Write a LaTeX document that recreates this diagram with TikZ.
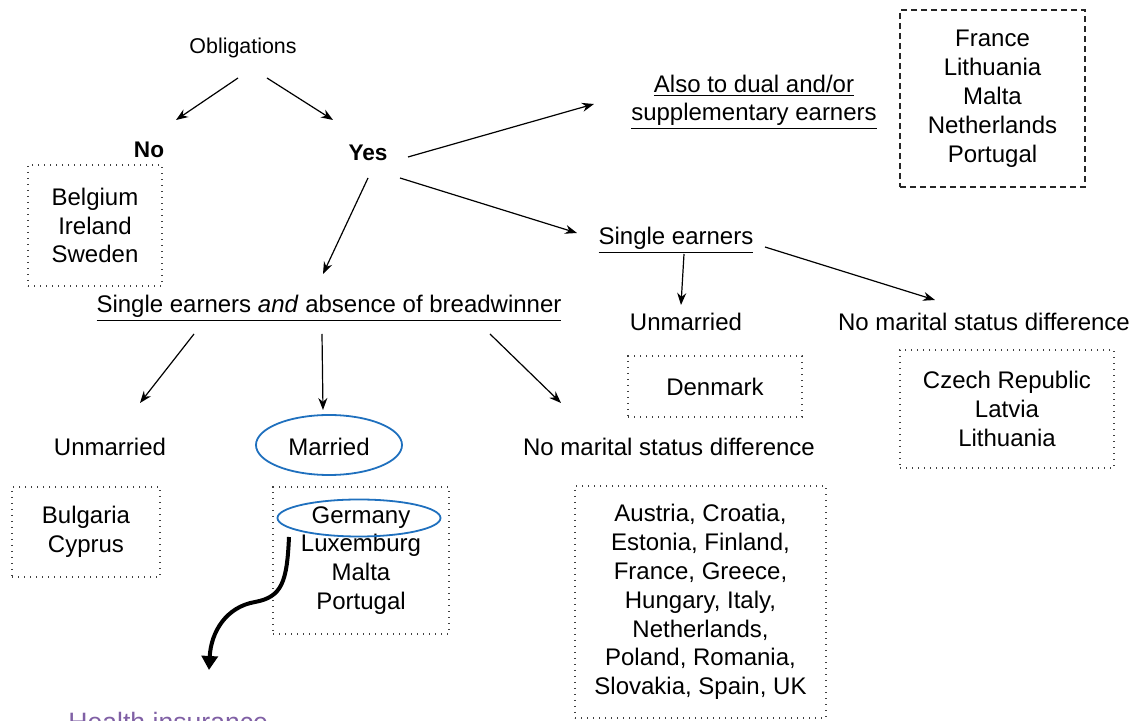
\documentclass[tikz,border=0pt]{standalone}
\usepackage{fontspec}
\setmainfont{Liberation Sans}
\usetikzlibrary{arrows.meta,shapes.geometric}
\definecolor{ellblue}{RGB}{31,112,190}
\definecolor{hipurple}{RGB}{128,96,165}
\tikzset{
  lbl/.style={inner sep=0pt, align=center, font=\fontsize{12}{14.4}\selectfont},
  dotbox/.style={draw=black!75, line width=0.7pt, dash pattern=on 0.7pt off 2.3pt, inner sep=0pt, align=center, font=\fontsize{12}{14.4}\selectfont},
  dashbox/.style={draw=black!85, line width=0.7pt, dash pattern=on 3pt off 2pt, inner sep=0pt, align=center, font=\fontsize{12}{14.5}\selectfont},
  arr/.style={draw=black, line width=0.6pt, -{Stealth[length=6pt,width=4.5pt]}},
  ell/.style={draw=ellblue, line width=0.9pt, ellipse, inner sep=0pt},
  bigarr/.style={draw=black, line width=2pt, -{Triangle[length=7pt,width=8pt]}},
}
\begin{document}
\begin{tikzpicture}[x=0.5pt,y=-0.5pt]
\useasboundingbox (0,0) rectangle (1132,721);
% text nodes
\node[lbl, font=\fontsize{10.7}{13}\selectfont] (obl) at (243,48) {Obligations};
\node[lbl, font=\bfseries\fontsize{11.3}{13}\selectfont] (no) at (149,150) {No};
\node[lbl, font=\bfseries\fontsize{11.3}{13}\selectfont] (yes) at (368,153) {Yes};
\node[lbl, font=\fontsize{12}{14}\selectfont] (dual) at (754,102) {\underline{Also to dual and/or}\\\underline{supplementary earners}};
\node[lbl] (single) at (676,240) {\underline{Single earners}};
\node[lbl] (unm2) at (686,322) {Unmarried};
\node[lbl] (nmsd2) at (984,322) {No marital status difference};
\node[lbl] (saab) at (329,308) {\underline{Single earners \emph{and} absence of breadwinner}};
\node[lbl] (unm1) at (110,447) {Unmarried};
\node[lbl] (married) at (329,447) {Married};
\node[lbl] (nmsd1) at (669,447) {No marital status difference};
% boxes
\node[dotbox, minimum width=67pt, minimum height=60.5pt] (belg) at (95,225.5) {Belgium\\Ireland\\Sweden};
\node[dashbox, minimum width=92.5pt, minimum height=88.5pt] (fra) at (992.5,98.5) {France\\Lithuania\\Malta\\Netherlands\\Portugal};
\node[dotbox, minimum width=87pt, minimum height=30.5pt] (den) at (715,386.5) {Denmark};
\node[dotbox, minimum width=107pt, minimum height=59pt] (cze) at (1007,409) {Czech Republic\\Latvia\\Lithuania};
\node[dotbox, minimum width=74pt, minimum height=45pt] (bul) at (86,532) {Bulgaria\\Cyprus};
\node[dotbox, minimum width=88pt, minimum height=73.5pt] (ger) at (361,560.5) {Germany\\Luxemburg\\Malta\\Portugal};
\node[dotbox, minimum width=125.5pt, minimum height=116pt] (aus) at (700.5,602) {Austria, Croatia,\\Estonia, Finland,\\France, Greece,\\Hungary, Italy,\\Netherlands,\\Poland, Romania,\\Slovakia, Spain, UK};
% ellipses
\node[ell, minimum width=73pt, minimum height=30pt] (marell) at (329,445) {};
\node[ell, minimum width=81.5pt, minimum height=18.5pt] (gerell) at (359,518) {};
% health insurance
\node[anchor=base west, inner sep=0pt, text=hipurple, font=\fontsize{13.3}{16}\selectfont] (health) at (68,732) {Health insurance};
% arrows
\draw[arr] ([shift={(-5,30)}]obl.center) -- ([shift={(27,-30)}]no.center);
\draw[arr] ([shift={(24,30)}]obl.center) -- ([shift={(-35,-33)}]yes.center);
\draw[arr] ([shift={(40,4)}]yes.center) -- ([shift={(-160,2)}]dual.center);
\draw[arr] ([shift={(32,25)}]yes.center) -- ([shift={(-99,-7)}]single.center);
\draw[arr] ([shift={(0,25)}]yes.center) -- ([shift={(-6,-34)}]saab.center);
\draw[arr] ([shift={(8,14)}]single.center) -- ([shift={(-5,-17)}]unm2.center);
\draw[arr] ([shift={(89,7)}]single.center) -- ([shift={(-49,-22)}]nmsd2.center);
\draw[arr] ([shift={(-135,26)}]saab.center) -- ([shift={(30,-44)}]unm1.center);
\draw[arr] ([shift={(-7,26)}]saab.center) -- ([shift={(-6,-37)}]married.center);
\draw[arr] ([shift={(161,26)}]saab.center) -- ([shift={(-108,-44)}]nmsd1.center);
% curved arrow
\coordinate (hitip) at ([shift={(141,-62)}]health.base west);
\draw[bigarr] ([shift={(-70,19)}]gerell.center) .. controls +(-2,45) and (282,597) .. (255,602) .. controls (226,607) and (211,632) .. (hitip);
\end{tikzpicture}
\end{document}
